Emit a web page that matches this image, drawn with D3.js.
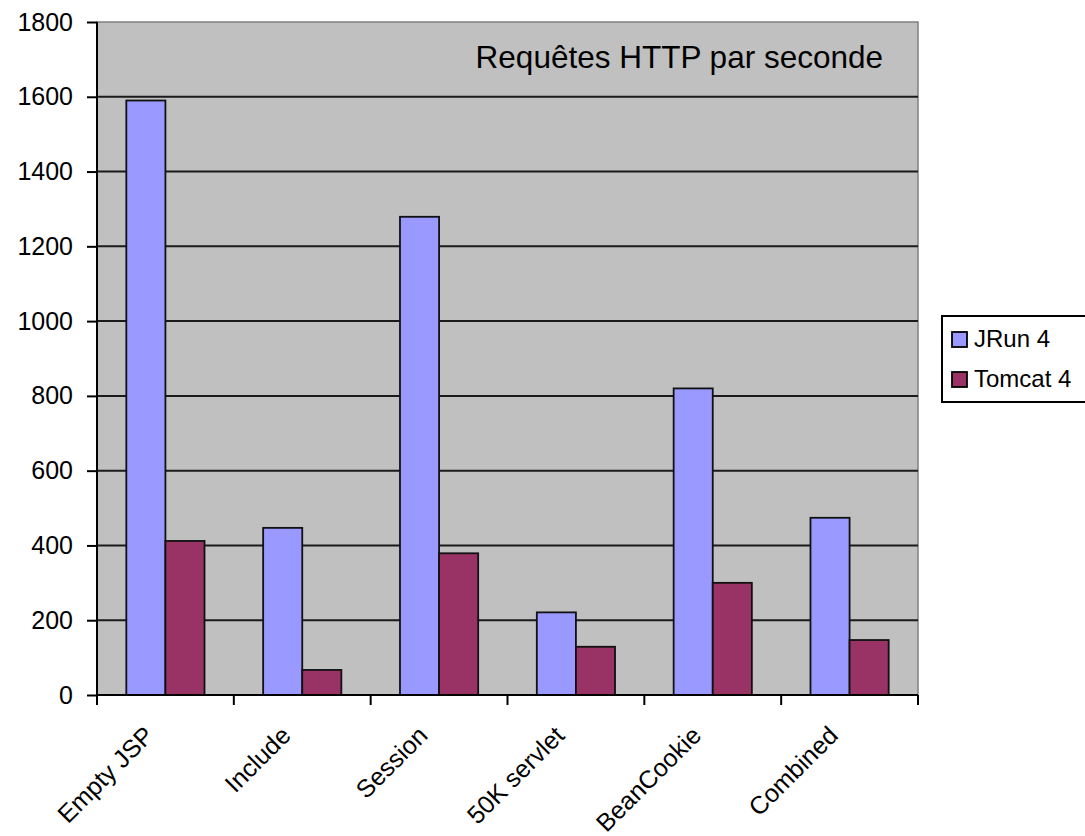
<!DOCTYPE html>
<html>
<head>
<meta charset="utf-8">
<title>Requêtes HTTP par seconde</title>
<script src="https://d3js.org/d3.v7.min.js"></script>
<style>
  body { margin: 0; background: #fff; }
  svg text { font-family: "Liberation Sans", Arial, sans-serif; fill: #000; }
</style>
</head>
<body>
<div id="chart"></div>
<script>
const categories = ['Empty JSP', 'Include', 'Session', '50K servlet', 'BeanCookie', 'Combined'];
const seriesNames = ['JRun 4', 'Tomcat 4'];
const jrun = [1590, 447, 1279, 221, 820, 474];
const tomcat = [412, 67, 379, 129, 300, 147];
const yTicks = [0, 200, 400, 600, 800, 1000, 1200, 1400, 1600, 1800];
const colors = ['#9999ff', '#993366'];
const title = 'Requêtes HTTP par seconde';

const width = 1085, height = 836;
const margin = { top: 22, left: 97, right: 1085 - 918, bottom: 836 - 695 };
const innerW = width - margin.left - margin.right;
const innerH = height - margin.top - margin.bottom;

const svg = d3.select('#chart').append('svg')
  .attr('width', width)
  .attr('height', height);

const g = svg.append('g')
  .attr('transform', `translate(${margin.left},${margin.top})`);

const x = d3.scaleBand().domain(categories).range([0, innerW]).padding(0);
const xs = d3.scaleBand().domain(seriesNames).range([0, x.bandwidth()])
  .paddingInner(0).paddingOuter(0.75);
const y = d3.scaleLinear().domain([0, 1800]).range([innerH, 0]);

// plot background
g.append('rect')
  .attr('width', innerW).attr('height', innerH)
  .attr('fill', '#c0c0c0')
  .attr('stroke', '#808080').attr('stroke-width', 1.5);

// gridlines
g.append('g').selectAll('line')
  .data(yTicks.filter(d => d > 0 && d < 1800))
  .join('line')
  .attr('x1', 0).attr('x2', innerW)
  .attr('y1', d => y(d)).attr('y2', d => y(d))
  .attr('stroke', '#1a1a1a').attr('stroke-width', 2);

// bars
const rows = categories.map((c, i) => ({ cat: c, vals: [jrun[i], tomcat[i]] }));
g.append('g').selectAll('g')
  .data(rows)
  .join('g')
  .attr('transform', d => `translate(${x(d.cat)},0)`)
  .selectAll('rect')
  .data(d => d.vals.map((v, j) => ({ s: seriesNames[j], v, j })))
  .join('rect')
  .attr('x', d => xs(d.s))
  .attr('width', xs.bandwidth())
  .attr('y', d => y(d.v))
  .attr('height', d => y(0) - y(d.v))
  .attr('fill', d => colors[d.j])
  .attr('stroke', '#111').attr('stroke-width', 1.8);

// y axis
const yAxis = g.append('g')
  .call(d3.axisLeft(y).tickValues(yTicks).tickFormat(d3.format('d')).tickSize(10).tickPadding(14));
yAxis.select('.domain').attr('stroke', '#000').attr('stroke-width', 2)
  .attr('d', `M0,${innerH + 10}V0`);
yAxis.selectAll('.tick line').attr('stroke', '#000').attr('stroke-width', 2);
yAxis.selectAll('.tick text').style('font-size', '25px').attr('fill', '#222');

// x axis: ticks at category boundaries
const xAxis = g.append('g').attr('transform', `translate(0,${innerH})`);
xAxis.append('line')
  .attr('x1', 0).attr('x2', innerW).attr('y1', 0).attr('y2', 0)
  .attr('stroke', '#000').attr('stroke-width', 2);
xAxis.selectAll('line.tick')
  .data(categories.concat(['__end']))
  .join('line')
  .attr('class', 'tick')
  .attr('x1', (d, i) => i * x.step()).attr('x2', (d, i) => i * x.step())
  .attr('y1', 0).attr('y2', 10)
  .attr('stroke', '#000').attr('stroke-width', 2);
xAxis.selectAll('text')
  .data(categories)
  .join('text')
  .attr('transform', d => `translate(${x(d) + x.bandwidth() / 2 - 10},42) rotate(-45)`)
  .attr('text-anchor', 'end')
  .style('font-size', '25px')
  .attr('fill', '#222')
  .text(d => d);

// title inside plot
g.append('text')
  .attr('x', 883 - margin.left)
  .attr('y', 68 - margin.top)
  .attr('text-anchor', 'end')
  .style('font-size', '31.5px')
  .text(title);

// legend
const legend = svg.append('g').attr('transform', 'translate(942,316)');
legend.append('rect')
  .attr('width', 160).attr('height', 86)
  .attr('fill', '#fff').attr('stroke', '#000').attr('stroke-width', 2);
const li = legend.selectAll('g.item')
  .data(seriesNames)
  .join('g')
  .attr('class', 'item')
  .attr('transform', (d, i) => `translate(10,${16 + i * 40})`);
li.append('rect')
  .attr('width', 15).attr('height', 15)
  .attr('fill', (d, i) => colors[i])
  .attr('stroke', '#000').attr('stroke-width', 1.8);
li.append('text')
  .attr('x', 22).attr('y', 15)
  .style('font-size', '24px')
  .attr('fill', '#222')
  .text(d => d);
</script>
</body>
</html>
